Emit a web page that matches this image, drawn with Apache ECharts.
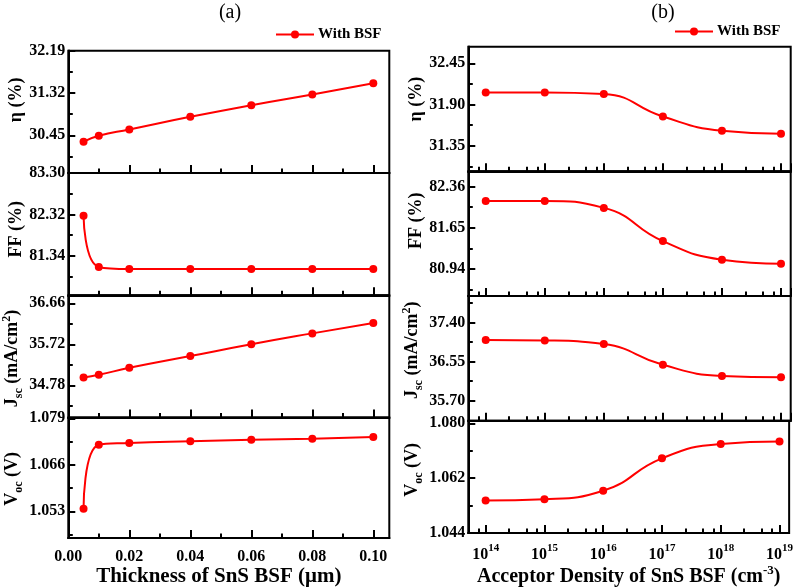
<!DOCTYPE html>
<html><head><meta charset="utf-8">
<script src="https://cdn.jsdelivr.net/npm/echarts@6/dist/echarts.min.js"></script>
<style>html,body{margin:0;padding:0;background:#fff}#c{width:796px;height:588px}</style>
</head><body><div id="c"></div>
<script>
// ---------- data ----------
const thickness = [0.005, 0.01, 0.02, 0.04, 0.06, 0.08, 0.10];
const etaA = [30.32, 30.44, 30.57, 30.83, 31.07, 31.29, 31.52];
const ffA  = [82.29, 81.08, 81.03, 81.03, 81.03, 81.03, 81.03];
const jscA = [34.96, 35.02, 35.18, 35.45, 35.72, 35.97, 36.21];
const vocA = [1.0537, 1.0716, 1.0721, 1.0726, 1.0730, 1.0733, 1.0738];

const density = [1e14, 1e15, 1e16, 1e17, 1e18, 1e19];
const etaB = [32.06, 32.06, 32.04, 31.74, 31.55, 31.51];
const ffB  = [82.11, 82.11, 81.99, 81.42, 81.10, 81.03];
const jscB = [37.02, 37.01, 36.93, 36.48, 36.24, 36.21];
const vocB = [1.0547, 1.0551, 1.0579, 1.0685, 1.0732, 1.0740];

// tick labels / tick positions
const thickMajor = [0, 0.02, 0.04, 0.06, 0.08, 0.10];
const thickMinor = [0.01, 0.03, 0.05, 0.07, 0.09];
const densMinor = [7.5e13, 2.5e14, 5e14, 7.5e14, 2.5e15, 5e15, 7.5e15, 2.5e16, 5e16, 7.5e16,
                   2.5e17, 5e17, 7.5e17, 2.5e18, 5e18, 7.5e18];
const etaATicks = [32.19, 31.32, 30.45], etaAMinor = [31.755, 30.885, 30.015];
const ffATicks  = [83.30, 82.32, 81.34], ffAMinor  = [82.81, 81.83, 80.85];
const jscATicks = [36.66, 35.72, 34.78], jscAMinor = [36.19, 35.25, 34.31];
const vocATicks = [1.079, 1.066, 1.053], vocAMinor = [1.0725, 1.0595, 1.0465];
const etaBTicks = [32.45, 31.90, 31.35], etaBMinor = [32.175, 31.625, 31.075];
const ffBTicks  = [82.36, 81.65, 80.94], ffBMinor  = [82.005, 81.295, 80.585];
const jscBTicks = [37.40, 36.55, 35.70], jscBMinor = [37.825, 36.975, 36.125, 35.275];
const vocBTicks = [1.044, 1.062, 1.080], vocBMinor = [1.053, 1.071];

// ---------- styling / layout ----------
const F = 'Liberation Serif';
const RED = '#ff0000';
const nameRich = {
  b:   {fontFamily: F, fontWeight: 'bold', fontSize: 18, color: '#000', padding: [0,0,4,0], verticalAlign: 'bottom'},
  sub: {fontFamily: F, fontWeight: 'bold', fontSize: 12, color: '#000', verticalAlign: 'bottom'},
  sup: {fontFamily: F, fontWeight: 'bold', fontSize: 12, color: '#000', padding: [0,0,12,0], verticalAlign: 'bottom'}
};
const cols = [
  {left: 68.3, width: 321, top: 50.7, h: 122.3},
  {left: 468.3, width: 322.4, top: 46.7, h: 124.65}
];
const panelsA = [
  {name: '{b|η (%)}', ys: etaA, min: 29.675, max: 32.19, major: etaATicks, minor: etaAMinor, dec: 2, shift: 24},
  {name: '{b|FF (%)}', ys: ffA, min: 80.41, max: 83.30, major: ffATicks, minor: ffAMinor, dec: 2, shift: 10},
  {name: '{b|J}{sub|sc}{b| (mA/cm}{sup|2}{b|)}', ys: jscA, min: 34.039, max: 36.843, major: jscATicks, minor: jscAMinor, dec: 2, shift: -4},
  {name: '{b|V}{sub|oc}{b| (V)}', ys: vocA, min: 1.04552, max: 1.0792, major: vocATicks, minor: vocAMinor, dec: 3, shift: -2}
];
const panelsB = [
  {name: '{b|η (%)}', ys: etaB, min: 31.009, max: 32.672, major: etaBTicks, minor: etaBMinor, dec: 2, shift: 20},
  {name: '{b|FF (%)}', ys: ffB, min: 80.476, max: 82.618, major: ffBTicks, minor: ffBMinor, dec: 2, shift: 26},
  {name: '{b|J}{sub|sc}{b| (mA/cm}{sup|2}{b|)}', ys: jscB, min: 35.27, max: 37.972, major: jscBTicks, minor: jscBMinor, dec: 2, shift: 16},
  {name: '{b|V}{sub|oc}{b| (V)}', ys: vocB, min: 1.044, max: 1.08086, major: vocBTicks, minor: vocBMinor, dec: 3, shift: 14}
];

const grids = [], xAxes = [], yAxes = [], series = [];
const labelFont = {fontFamily: F, fontWeight: 'bold', fontSize: 16, color: '#000'};
const tickLine = {color: '#000', width: 2};
const axLine = {show: true, onZero: false, lineStyle: {color: '#000', width: 2}};
const logMin = Math.pow(10, 13.705), logMax = Math.pow(10, 19.164);

function tickOnlyY(gi, p, values, len) {
  return {gridIndex: gi, type: 'value', position: 'left', min: p.min, max: p.max,
    axisLine: axLine, splitLine: {show: false}, axisLabel: {show: false, customValues: values},
    axisTick: {show: true, inside: true, length: len, customValues: values, lineStyle: tickLine}};
}

function addPanel(col, row, p) {
  const c = cols[col];
  const gi = grids.length;
  grids.push({left: c.left, top: c.top + row * c.h, width: c.width, height: c.h,
    show: true, borderColor: '#000', borderWidth: 2, backgroundColor: 'transparent', containLabel: false});
  const bottom = row === 3;
  if (col === 0) {
    xAxes.push({gridIndex: gi, type: 'value', position: 'bottom', min: 0, max: 0.10525,
      axisLine: axLine, splitLine: {show: false},
      axisTick: {show: true, inside: true, length: 8, customValues: thickMajor, lineStyle: tickLine},
      axisLabel: {show: bottom, customValues: thickMajor, formatter: v => Number(v).toFixed(2), margin: 11, ...labelFont},
      name: bottom ? 'Thickness of SnS BSF (μm)' : '', nameLocation: 'middle', nameGap: 20,
      nameTextStyle: {fontFamily: F, fontWeight: 'bold', fontSize: 21, color: '#000', padding: [0, 20, 0, 0]}
    });
    xAxes.push({gridIndex: gi, type: 'value', position: 'bottom', min: 0, max: 0.10525,
      axisLine: axLine, splitLine: {show: false}, axisLabel: {show: false, customValues: thickMinor},
      axisTick: {show: true, inside: true, length: 4.5, customValues: thickMinor, lineStyle: tickLine}});
  } else {
    xAxes.push({gridIndex: gi, type: 'log', position: 'bottom', logBase: 10, min: logMin, max: logMax,
      axisLine: axLine, splitLine: {show: false}, minorTick: {show: false},
      axisTick: {show: true, inside: true, length: 8, lineStyle: tickLine},
      axisLabel: {show: bottom, showMinLabel: false, showMaxLabel: false, margin: 10,
        formatter: v => '{b|10}{s|' + Math.round(Math.log10(v)) + '}',
        rich: {
          b: {fontFamily: F, fontWeight: 'bold', fontSize: 16, color: '#000', verticalAlign: 'bottom'},
          s: {fontFamily: F, fontWeight: 'bold', fontSize: 11, color: '#000', padding: [0,0,9,0], verticalAlign: 'bottom'}
        }},
      name: bottom ? '{b|Acceptor Density of SnS BSF (cm}{sup|-3}{b|)}' : '', nameLocation: 'middle', nameGap: 20,
      nameTextStyle: {rich: {
        b: {fontFamily: F, fontWeight: 'bold', fontSize: 20, color: '#000', verticalAlign: 'bottom'},
        sup: {fontFamily: F, fontWeight: 'bold', fontSize: 13, color: '#000', padding: [0,0,10,0], verticalAlign: 'bottom'}
      }}
    });
    const minorExp = densMinor.map(v => Math.log10(v));
    xAxes.push({gridIndex: gi, type: 'value', position: 'bottom', min: 13.705, max: 19.164,
      axisLine: axLine, splitLine: {show: false}, axisLabel: {show: false, customValues: minorExp},
      axisTick: {show: true, inside: true, length: 4.5, customValues: minorExp, lineStyle: tickLine}});
  }
  const pad = p.shift >= 0 ? [0, 0, 0, p.shift] : [0, -p.shift, 0, 0];
  yAxes.push({gridIndex: gi, type: 'value', position: 'left', min: p.min, max: p.max,
    axisLine: axLine, splitLine: {show: false},
    axisTick: {show: false},
    axisLabel: {customValues: p.major, formatter: v => Number(v).toFixed(p.dec), margin: 3, ...labelFont},
    name: p.name, nameLocation: 'middle', nameGap: 39, nameRotate: 90,
    nameTextStyle: {rich: nameRich, padding: pad}
  });
  yAxes.push(tickOnlyY(gi, p, p.major, 7));
  yAxes.push(tickOnlyY(gi, p, p.minor, 4.5));
  const xs = col === 0 ? thickness : density;
  series.push({type: 'line', name: 'With BSF', xAxisIndex: 2 * gi, yAxisIndex: 3 * gi,
    data: xs.map((x, i) => [x, p.ys[i]]), smooth: true, symbol: 'circle', symbolSize: 8,
    lineStyle: {color: RED, width: 2}, itemStyle: {color: RED}, animation: false});
}
panelsA.forEach((p, r) => addPanel(0, r, p));
panelsB.forEach((p, r) => addPanel(1, r, p));

const legendBase = {orient: 'horizontal', padding: 0, itemWidth: 38, itemHeight: 10, itemGap: 0,
  data: ['With BSF'], selectedMode: false,
  textStyle: {fontFamily: F, fontWeight: 'bold', fontSize: 15, color: '#000', padding: [0,0,0,-1]}};

const chart = echarts.init(document.getElementById('c'), null, {renderer: 'canvas'});
chart.setOption({
  animation: false,
  backgroundColor: '#fff',
  grid: grids, xAxis: xAxes, yAxis: yAxes, series: series,
  legend: [
    Object.assign({}, legendBase, {left: 275, top: 27}),
    Object.assign({}, legendBase, {left: 674, top: 24})
  ],
  graphic: [
    {type: 'text', x: 230, y: 13, style: {text: '(a)', align: 'center', verticalAlign: 'middle',
      fontFamily: F, fontSize: 20, fill: '#000'}},
    {type: 'text', x: 663, y: 13, style: {text: '(b)', align: 'center', verticalAlign: 'middle',
      fontFamily: F, fontSize: 20, fill: '#000'}}
  ]
});
</script></body></html>
